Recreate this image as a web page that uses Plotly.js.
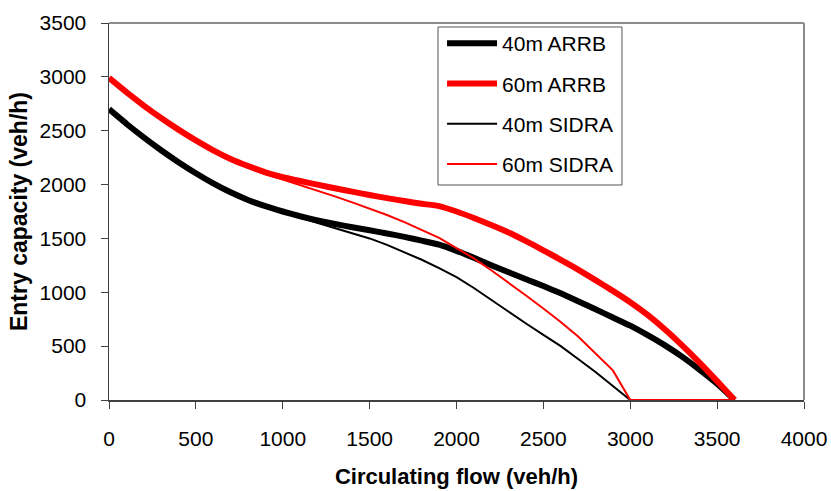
<!DOCTYPE html>
<html>
<head>
<meta charset="utf-8">
<script src="https://cdn.plot.ly/plotly-3.0.1.min.js"></script>
<style>
  html, body { margin: 0; padding: 0; background: #ffffff; }
  #chart { width: 831px; height: 491px; }
</style>
</head>
<body>
<div id="chart"></div>
<script>
// Circulating flow (veh/h) at which entry capacity is evaluated
const circulatingFlow = [
  0, 100, 200, 300, 400, 500, 600, 700, 800, 900,
  1000, 1100, 1200, 1300, 1400, 1500, 1600, 1700, 1800, 1900,
  2000, 2100, 2200, 2300, 2400, 2500, 2600, 2700, 2800, 2900,
  3000, 3100, 3200, 3300, 3400, 3500, 3600
];

// Entry capacity (veh/h), ARRB model
const arrb40 = [
  2700, 2565, 2438, 2319, 2208, 2105, 2011, 1928, 1857, 1799,
  1750, 1706, 1668, 1634, 1604, 1576, 1546, 1514, 1479, 1442,
  1385, 1320, 1252, 1186, 1121, 1058, 990, 917, 842, 766,
  690, 602, 507, 400, 280, 150, 0
];
const arrb60 = [
  2990, 2858, 2734, 2618, 2510, 2410, 2318, 2238, 2172, 2114,
  2069, 2033, 1999, 1966, 1934, 1903, 1874, 1847, 1822, 1800,
  1750, 1690, 1625, 1555, 1475, 1390, 1302, 1210, 1113, 1013,
  908, 790, 655, 505, 345, 175, 0
];

// Entry capacity (veh/h), SIDRA model
const sidra40 = [
  2695, 2560, 2432, 2312, 2200, 2096, 2001, 1917, 1846, 1789,
  1740, 1692, 1645, 1597, 1549, 1500, 1440, 1374, 1302, 1225,
  1140, 1040, 930, 815, 710, 605, 500, 380, 260, 130,
  0, 0, 0, 0, 0, 0, 0
];
const sidra60 = [
  2985, 2852, 2727, 2610, 2501, 2400, 2307, 2225, 2155, 2097,
  2047, 1997, 1943, 1890, 1835, 1778, 1718, 1652, 1580, 1505,
  1410, 1315, 1205, 1090, 970, 850, 725, 590, 430, 275,
  0, 0, 0, 0, 0, 0, 0
];

const seriesNames = ['40m ARRB', '60m ARRB', '40m SIDRA', '60m SIDRA'];
const xTicks = [0, 500, 1000, 1500, 2000, 2500, 3000, 3500, 4000];
const yTicks = [0, 500, 1000, 1500, 2000, 2500, 3000, 3500];

const FONT = '"Liberation Sans", Arial, sans-serif';

// ARRB curves are drawn smoothed; SIDRA curves keep their sharp corners
function series(y, name, color, width, idx, smooth) {
  const line = { color: color, width: width };
  if (smooth) { line.shape = 'spline'; line.smoothing = 0.5; }
  return {
    x: circulatingFlow,
    y: y,
    name: name,
    type: 'scatter',
    mode: 'lines',
    line: line,
    legendgroup: 'g' + idx,
    hoverinfo: 'x+y+name'
  };
}

const data = [
  series(arrb40, seriesNames[0], '#000000', 6, 0, true),
  series(arrb60, seriesNames[1], '#ff0000', 6, 1, true),
  series(sidra40, seriesNames[2], '#000000', 2, 2, false),
  series(sidra60, seriesNames[3], '#ff0000', 2, 3, false)
];

const layout = {
  width: 831,
  height: 491,
  margin: { l: 109, r: 27, t: 23, b: 91 },
  paper_bgcolor: '#ffffff',
  plot_bgcolor: '#ffffff',
  font: { family: FONT, size: 21, color: '#000000' },
  showlegend: true,
  legend: {
    x: 0.4792, y: 1.0, xanchor: 'left', yanchor: 'top',
    bgcolor: 'rgba(0,0,0,0)', borderwidth: 0,
    traceorder: 'grouped', tracegroupgap: 10,
    itemwidth: 50,
    font: { family: FONT, size: 21, color: '#000000' }
  },
  xaxis: {
    range: [0, 4000],
    tickvals: xTicks,
    ticktext: xTicks.map(String),
    ticks: 'outside', ticklen: 7, tickwidth: 1, tickcolor: '#404040',
    ticklabelstandoff: 12,
    showline: true, linecolor: '#404040', linewidth: 1.5,
    showgrid: false, zeroline: false,
    tickfont: { family: FONT, size: 21, color: '#000000' },
    title: {
      text: '<b>Circulating flow (veh/h)</b>',
      font: { family: FONT, size: 22, color: '#000000' },
      standoff: 20
    },
    fixedrange: true
  },
  yaxis: {
    range: [0, 3500],
    tickvals: yTicks,
    ticktext: yTicks.map(String),
    ticks: 'outside', ticklen: 7, tickwidth: 1, tickcolor: '#404040',
    ticklabelstandoff: 10,
    showline: true, linecolor: '#404040', linewidth: 1.5,
    showgrid: false, zeroline: false,
    tickfont: { family: FONT, size: 21, color: '#000000' },
    title: {
      text: '<b>Entry capacity (veh/h)</b>',
      font: { family: FONT, size: 23, color: '#000000' },
      standoff: 5
    },
    fixedrange: true
  },
  shapes: [
    // legend frame
    { type: 'rect', xref: 'paper', yref: 'paper', layer: 'below',
      x0: 0.4734, x1: 0.7381, y0: 0.5703, y1: 0.9894,
      fillcolor: '#ffffff', line: { color: '#555555', width: 1 } },
    // grey frame on the top and right of the plot area
    { type: 'line', xref: 'paper', yref: 'paper', x0: 0, x1: 1, y0: 1, y1: 1,
      line: { color: '#8c8c8c', width: 2 } },
    { type: 'line', xref: 'paper', yref: 'paper', x0: 1, x1: 1, y0: 0, y1: 1,
      line: { color: '#8c8c8c', width: 2 } }
  ]
};

Plotly.newPlot('chart', data, layout, { displayModeBar: false, staticPlot: true });
</script>
</body>
</html>
